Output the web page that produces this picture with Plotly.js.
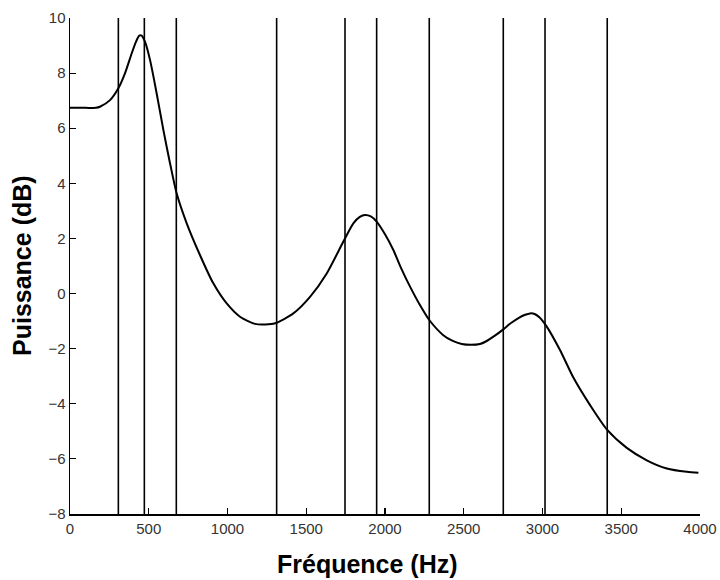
<!DOCTYPE html>
<html>
<head>
<meta charset="utf-8">
<script src="https://cdn.plot.ly/plotly-3.0.1.min.js"></script>
<style>html,body{margin:0;padding:0;background:#fff;}#chart{width:720px;height:580px;}</style>
</head>
<body>
<div id="chart"></div>
<script>
// Spectral envelope (Hz, dB)
const freq = [0, 100, 165, 190, 254, 307, 349, 392, 420, 440, 455, 476, 508, 550, 593, 635, 677, 741, 825, 910, 995, 1079, 1175, 1240, 1302, 1418, 1524, 1630, 1735, 1799, 1840, 1873, 1910, 1947, 2000, 2053, 2100, 2159, 2220, 2281, 2370, 2430, 2487, 2545, 2603, 2640, 2700, 2751, 2800, 2850, 2890, 2921, 2950, 2980, 3027, 3111, 3196, 3302, 3411, 3535, 3662, 3789, 3916, 3990];
const power = [6.74, 6.74, 6.74, 6.78, 7.02, 7.45, 7.99, 8.72, 9.15, 9.36, 9.36, 9.14, 8.48, 7.27, 5.93, 4.73, 3.64, 2.55, 1.40, 0.37, -0.36, -0.84, -1.10, -1.12, -1.08, -0.72, -0.12, 0.73, 1.88, 2.55, 2.78, 2.85, 2.80, 2.61, 2.15, 1.58, 0.95, 0.25, -0.40, -0.96, -1.51, -1.72, -1.83, -1.86, -1.83, -1.74, -1.52, -1.30, -1.07, -0.88, -0.77, -0.72, -0.74, -0.86, -1.20, -2.05, -3.05, -4.05, -4.95, -5.60, -6.05, -6.35, -6.47, -6.50];
// Vertical marker frequencies (Hz)
const markers = [307, 472, 675, 1312, 1746, 1947, 2281, 2751, 3016, 3411];
const xTicks = [0, 500, 1000, 1500, 2000, 2500, 3000, 3500, 4000];
const yTicks = [-8, -6, -4, -2, 0, 2, 4, 6, 8, 10];
const xRange = [0, 4000];
const yRange = [-8, 10];
const xTitle = 'Fréquence (Hz)';
const yTitle = 'Puissance (dB)';

const mx = [], my = [];
markers.forEach(f => { mx.push(f, f, null); my.push(yRange[0], yRange[1], null); });

const traces = [
  {x: mx, y: my, mode: 'lines', line: {color: '#000', width: 1.6}, hoverinfo: 'skip', showlegend: false},
  {x: freq, y: power, mode: 'lines', line: {color: '#000', width: 2, shape: 'spline', smoothing: 0.7}, showlegend: false}
];

const tickFont = {family: 'Liberation Sans, Arial, sans-serif', size: 15, color: '#333'};
const titleFont = {family: 'Liberation Sans, Arial, sans-serif', size: 25, color: '#000', weight: 'bold'};
const layout = {
  width: 720, height: 580,
  margin: {l: 70, r: 20, t: 18, b: 66},
  paper_bgcolor: '#fff', plot_bgcolor: '#fff',
  showlegend: false,
  xaxis: {
    range: xRange, tickvals: xTicks, ticktext: xTicks.map(String),
    showgrid: false, zeroline: false, showline: true, linecolor: '#000', linewidth: 1.5,
    ticks: 'inside', ticklen: 6, tickwidth: 1.2, tickcolor: '#000', mirror: false,
    tickfont: tickFont
  },
  yaxis: {
    range: yRange, tickvals: yTicks, ticktext: yTicks.map(v => v < 0 ? '\u2212' + Math.abs(v) : String(v)),
    showgrid: false, zeroline: false, showline: true, linecolor: '#000', linewidth: 1.5,
    ticks: 'inside', ticklen: 6, tickwidth: 1.2, tickcolor: '#000', mirror: false,
    tickfont: tickFont
  },
  annotations: [
    {text: xTitle, xref: 'paper', yref: 'paper', x: 0.473, y: 0, xanchor: 'center', yanchor: 'middle', yshift: -50, showarrow: false, font: titleFont},
    {text: yTitle, xref: 'paper', yref: 'paper', x: 0, y: 0.5, xanchor: 'center', yanchor: 'middle', xshift: -48, textangle: -90, showarrow: false, font: titleFont}
  ]
};

Plotly.newPlot('chart', traces, layout, {staticPlot: true, displayModeBar: false});
</script>
</body>
</html>
